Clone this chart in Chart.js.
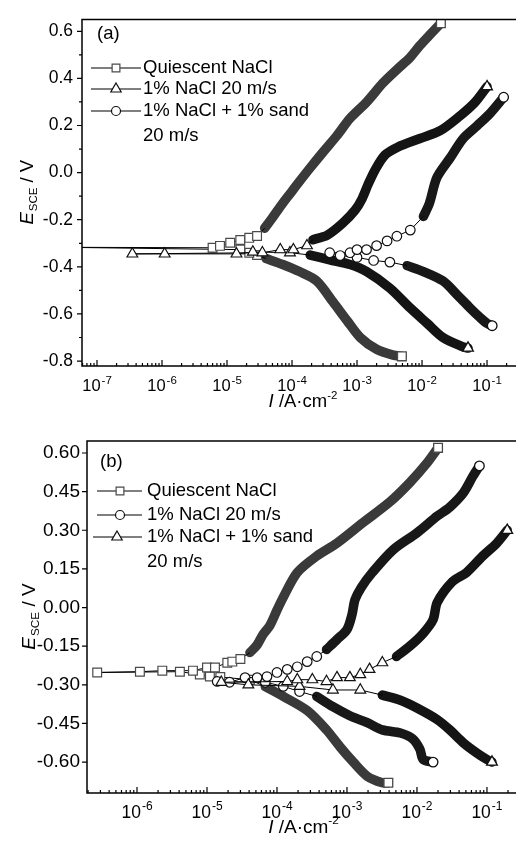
<!DOCTYPE html>
<html><head><meta charset="utf-8">
<script src="https://cdn.jsdelivr.net/npm/chart.js@4/dist/chart.umd.min.js"></script>
<style>
html,body{margin:0;padding:0;background:#fff;overflow:hidden;width:516px;height:843px}
canvas{position:absolute;left:0}
#ca{top:0}
#cb{top:420px}
</style></head><body>
<canvas id="ca" width="516" height="420"></canvas>
<canvas id="cb" width="516" height="423"></canvas>
<script>
const FONT = '"Liberation Sans", Arial, Helvetica, sans-serif';

// ---------- Panel (a) ----------
const aYTicks = [-0.8,-0.6,-0.4,-0.2,0.0,0.2,0.4,0.6];
const aYTickLabels = ['-0.8','-0.6','-0.4','-0.2','0.0','0.2','0.4','0.6'];
const aYMinor = [-0.7,-0.5,-0.3,-0.1,0.1,0.3,0.5];
const aDecades = [-7,-6,-5,-4,-3,-2,-1];
const aLegendLabels = ['Quiescent NaCl','1% NaCl 20 m/s','1% NaCl + 1% sand','20 m/s'];

// [current density A/cm2, potential V]
const aQuiCath = [[4.9e-3,-0.78],[3.6e-3,-0.775],[2.0e-3,-0.75],[1.12e-3,-0.70],[7.1e-4,-0.63],[4.3e-4,-0.55],[2.4e-4,-0.46],[1.3e-4,-0.42],[7.2e-5,-0.39],[4.0e-5,-0.365]];
const aQuiMid = [[2.9e-5,-0.35],[2.2e-5,-0.34],[1.6e-5,-0.327],[3e-8,-0.317],[6.0e-6,-0.319],[7.8e-6,-0.311],[1.12e-5,-0.298],[1.6e-5,-0.286],[2.2e-5,-0.277],[2.9e-5,-0.269]];
const aQuiAnod = [[3.8e-5,-0.236],[4.9e-5,-0.195],[7.2e-5,-0.13],[9.3e-5,-0.09],[1.2e-4,-0.05],[1.9e-4,0.02],[3.0e-4,0.087],[4.9e-4,0.157],[7.8e-4,0.23],[1.41e-3,0.30],[2.5e-3,0.38],[4.2e-3,0.44],[6.6e-3,0.49],[9.3e-3,0.54],[1.32e-2,0.585],[1.95e-2,0.634]];

const aTriCath = [[5.1e-2,-0.745],[4.3e-2,-0.74],[2.1e-2,-0.70],[1.2e-2,-0.64],[6.6e-3,-0.575],[3.2e-3,-0.49],[1.41e-3,-0.42],[7.8e-4,-0.39],[3.8e-4,-0.37],[1.9e-4,-0.35]];
const aTriMid = [[9.3e-5,-0.34],[2.5e-5,-0.337],[1.4e-5,-0.345],[1.1e-6,-0.345],[3.5e-7,-0.345],[3.5e-5,-0.34],[6.6e-5,-0.327],[1.05e-4,-0.327],[1.7e-4,-0.31]];
const aTriAnod = [[2.1e-4,-0.285],[3.5e-4,-0.265],[6.0e-4,-0.215],[9.3e-4,-0.16],[1.2e-3,-0.11],[1.48e-3,-0.05],[1.9e-3,0.012],[2.7e-3,0.075],[4.2e-3,0.108],[9.3e-3,0.145],[1.9e-2,0.178],[3.8e-2,0.24],[6.6e-2,0.30],[0.1,0.365]];

const aCirCath = [[0.12,-0.65],[0.1,-0.64],[7.8e-2,-0.615],[5.5e-2,-0.575],[3.5e-2,-0.52],[2.1e-2,-0.46],[1.05e-2,-0.42],[5.9e-3,-0.395]];
const aCirMid = [[3.2e-3,-0.38],[1.8e-3,-0.373],[1.0e-3,-0.36],[5.5e-4,-0.352],[3.8e-4,-0.34],[7.8e-4,-0.34],[1.0e-3,-0.327],[1.4e-3,-0.327],[2.0e-3,-0.31],[2.9e-3,-0.29],[4.1e-3,-0.27],[6.6e-3,-0.244]];
const aCirAnod = [[1.05e-2,-0.186],[1.3e-2,-0.13],[1.7e-2,-0.02],[2.7e-2,0.062],[4.3e-2,0.145],[7.1e-2,0.2],[0.11,0.25],[0.18,0.32]];

// ---------- Panel (b) ----------
const bYTicks = [-0.60,-0.45,-0.30,-0.15,0.00,0.15,0.30,0.45,0.60];
const bYTickLabels = ['-0.60','-0.45','-0.30','-0.15','0.00','0.15','0.30','0.45','0.60'];
const bDecades = [-6,-5,-4,-3,-2,-1];
const bLegendLabels = ['Quiescent NaCl','1% NaCl 20 m/s','1% NaCl + 1% sand','20 m/s'];

const bQuiCath = [[3.9e-3,-0.68],[3.2e-3,-0.68],[1.95e-3,-0.655],[1.23e-3,-0.60],[7.9e-4,-0.54],[5.1e-4,-0.475],[2.7e-4,-0.40],[1.23e-4,-0.345],[6.8e-5,-0.307]];
const bQuiMid = [[4.1e-5,-0.28],[1.55e-5,-0.27],[1.1e-5,-0.268],[7.9e-6,-0.26],[4.1e-6,-0.249],[2.7e-7,-0.252],[1.1e-6,-0.249],[2.3e-6,-0.245],[6.3e-6,-0.245],[1.0e-5,-0.233],[1.3e-5,-0.233],[1.95e-5,-0.214],[2.3e-5,-0.21],[3.0e-5,-0.2]];
const bQuiAnod = [[4.1e-5,-0.175],[5.2e-5,-0.145],[6.3e-5,-0.105],[7.9e-5,-0.07],[1.0e-4,-0.01],[1.23e-4,0.04],[1.95e-4,0.136],[3.7e-4,0.2],[7.2e-4,0.25],[1.7e-3,0.33],[4.1e-3,0.41],[7.9e-3,0.485],[1.38e-2,0.56],[2.0e-2,0.62]];

const bCirCath = [[1.7e-2,-0.60],[1.23e-2,-0.59],[1.1e-2,-0.55],[8.7e-3,-0.51],[5.8e-3,-0.487],[3.2e-3,-0.475],[1.95e-3,-0.447],[1.1e-3,-0.42],[6.3e-4,-0.385],[3.7e-4,-0.345]];
const bCirMid = [[2.1e-4,-0.326],[1.23e-4,-0.306],[6.8e-5,-0.29],[1.4e-5,-0.287],[2.1e-5,-0.29],[3.5e-5,-0.272],[5.2e-5,-0.272],[7.2e-5,-0.268],[1.0e-4,-0.252],[1.4e-4,-0.24],[1.95e-4,-0.23],[2.7e-4,-0.21],[3.7e-4,-0.19]];
const bCirAnod = [[5.1e-4,-0.163],[7.2e-4,-0.124],[1.0e-3,-0.085],[1.18e-3,-0.027],[1.3e-3,0.03],[1.6e-3,0.078],[2.3e-3,0.136],[4.6e-3,0.225],[1.0e-2,0.29],[1.95e-2,0.355],[2.95e-2,0.39],[4.6e-2,0.445],[6.3e-2,0.51],[7.8e-2,0.55]];

const bTriCath = [[0.118,-0.60],[0.1,-0.59],[7.2e-2,-0.565],[4.6e-2,-0.525],[2.95e-2,-0.475],[1.95e-2,-0.435],[1.0e-2,-0.39],[5.8e-3,-0.36],[3.2e-3,-0.34]];
const bTriMid = [[1.55e-3,-0.32],[6.3e-4,-0.32],[2.1e-4,-0.306],[3.9e-5,-0.30],[1.6e-5,-0.29],[1.4e-4,-0.287],[1.95e-4,-0.28],[3.2e-4,-0.28],[5.1e-4,-0.287],[7.2e-4,-0.272],[1.1e-3,-0.272],[1.55e-3,-0.26],[2.1e-3,-0.24],[3.2e-3,-0.214]];
const bTriAnod = [[5.1e-3,-0.19],[7.9e-3,-0.15],[1.23e-2,-0.1],[1.7e-2,-0.047],[1.95e-2,0.02],[3.2e-2,0.1],[5.1e-2,0.136],[8.7e-2,0.2],[0.138,0.25],[0.195,0.30]];

// ---------- styles ----------
const SQ = {ps:'rect', r:6.2, band:'#3a3a3a', mk:'#4a4a4a'};
const TR = {ps:'triangle', r:6.2, band:'#141414', mk:'#111'};
const CI = {ps:'circle', r:4.8, band:'#181818', mk:'#111'};
const BAND_W = 9.5;

const toXY = arr => arr.map(p => ({x:p[0], y:p[1]}));
function curveDatasets(cath, mid, anod, st, ord){
  const midPts = [cath[cath.length-1], ...mid, anod[0]];
  const nMid = midPts.length;
  const bandBase = {borderColor:st.band, borderWidth:BAND_W, tension:0.3, borderCapStyle:'round', borderJoinStyle:'round',
    pointStyle:st.ps, pointBackgroundColor:'#fff', pointBorderColor:st.mk, pointBorderWidth:1.3, order:ord+10};
  return [
    Object.assign({data:toXY(cath), pointRadius:c=>c.dataIndex===0?st.r:0}, bandBase),
    Object.assign({data:toXY(anod), pointRadius:c=>c.dataIndex===anod.length-1?st.r:0}, bandBase),
    {data:toXY(midPts), borderColor:'#000', borderWidth:1, tension:0, pointStyle:st.ps,
     pointRadius:c=>(c.dataIndex===0||c.dataIndex===nMid-1)?0:st.r,
     pointBackgroundColor:'#fff', pointBorderColor:st.mk, pointBorderWidth:1.2, order:ord}
  ];
}

function drawSup(ctx, base, exp, cx, baseline, fs, efs){
  ctx.font = fs+'px '+FONT;
  const wb = ctx.measureText(base).width;
  ctx.font = efs+'px '+FONT;
  const we = ctx.measureText(exp).width;
  const x0 = cx - (wb+we+1)/2;
  ctx.textAlign='left'; ctx.textBaseline='alphabetic';
  ctx.font = fs+'px '+FONT; ctx.fillText(base, x0, baseline);
  ctx.font = efs+'px '+FONT; ctx.fillText(exp, x0+wb+1, baseline-fs*0.45);
}

const decorPlugin = {
  id:'decor',
  afterDraw(chart){
    const o = chart.options.plugins.decor;
    const {ctx, chartArea:ca} = chart;
    const xs = chart.scales.x, ys = chart.scales.y;
    ctx.save();
    ctx.strokeStyle='#000'; ctx.fillStyle='#000'; ctx.lineWidth=1.5;
    ctx.beginPath();
    ctx.moveTo(ca.left, ca.top); ctx.lineTo(ca.right+2, ca.top);
    ctx.moveTo(ca.left, ca.top-0.75); ctx.lineTo(ca.left, ca.bottom+0.75);
    ctx.moveTo(ca.left, ca.bottom); ctx.lineTo(ca.right+2, ca.bottom);
    ctx.stroke();
    ctx.lineWidth=1.2;
    ctx.beginPath();
    o.yMajor.forEach(v=>{const p=ys.getPixelForValue(v); ctx.moveTo(ca.left-5,p); ctx.lineTo(ca.left,p);});
    o.yMinor.forEach(v=>{const p=ys.getPixelForValue(v); ctx.moveTo(ca.left-3,p); ctx.lineTo(ca.left,p);});
    o.decades.forEach(d=>{const p=xs.getPixelForValue(Math.pow(10,d)); ctx.moveTo(p,ca.bottom); ctx.lineTo(p,ca.bottom-6);});
    for(let d=o.decades[0]-1; d<=0; d++){
      for(let k=2;k<=9;k++){
        const v=k*Math.pow(10,d);
        if(v<xs.min||v>xs.max) continue;
        const p=xs.getPixelForValue(v); ctx.moveTo(p,ca.bottom); ctx.lineTo(p,ca.bottom-3);
      }
    }
    ctx.stroke();
    o.decades.forEach(d=>{
      const p=xs.getPixelForValue(Math.pow(10,d));
      drawSup(ctx,'10',String(d),p,ca.bottom+o.xLabOff,o.xFs,o.xEfs);
    });
    {
      const fs=o.tFs, efs=o.tFs*0.62;
      ctx.font='italic '+fs+'px '+FONT; const w1=ctx.measureText('I').width;
      ctx.font=fs+'px '+FONT; const w2=ctx.measureText(' /A\u00b7cm').width;
      ctx.font=efs+'px '+FONT; const w3=ctx.measureText('-2').width;
      let x=(ca.left+ca.right)/2+o.xtDx-(w1+w2+w3)/2; const yb=ca.bottom+o.xtOff;
      ctx.textAlign='left'; ctx.textBaseline='alphabetic';
      ctx.font='italic '+fs+'px '+FONT; ctx.fillText('I',x,yb); x+=w1;
      ctx.font=fs+'px '+FONT; ctx.fillText(' /A\u00b7cm',x,yb); x+=w2;
      ctx.font=efs+'px '+FONT; ctx.fillText('-2',x,yb-fs*0.45);
    }
    {
      const fs=o.tFs, sfs=o.tFs*0.62;
      ctx.save();
      ctx.translate(o.ytX,(ca.top+ca.bottom)/2);
      ctx.rotate(-Math.PI/2);
      ctx.font='italic '+fs+'px '+FONT; const w1=ctx.measureText('E').width;
      ctx.font=sfs+'px '+FONT; const w2=ctx.measureText('SCE').width;
      ctx.font=fs+'px '+FONT; const w3=ctx.measureText(' / V').width;
      let x=-(w1+w2+w3)/2;
      ctx.textAlign='left'; ctx.textBaseline='middle';
      ctx.font='italic '+fs+'px '+FONT; ctx.fillText('E',x,0); x+=w1+1;
      ctx.font=sfs+'px '+FONT; ctx.fillText('SCE',x,fs*0.3); x+=w2;
      ctx.font=fs+'px '+FONT; ctx.fillText(' / V',x,0);
      ctx.restore();
    }
    ctx.font=o.lFs+'px '+FONT; ctx.textAlign='left'; ctx.textBaseline='middle';
    ctx.fillText(o.panel,o.panelX,o.panelY);
    o.legend.forEach(row=>{
      if(row.st){
        ctx.strokeStyle='#000'; ctx.lineWidth=1.2;
        ctx.beginPath(); ctx.moveTo(row.x1,row.y); ctx.lineTo(row.x2,row.y); ctx.stroke();
        ctx.fillStyle='#fff'; ctx.strokeStyle=row.st.mk; ctx.lineWidth=1.2;
        Chart.helpers.drawPoint(ctx,{pointStyle:row.st.ps, radius:row.r, borderWidth:1.2},row.mx,row.y);
      }
      ctx.fillStyle='#000'; ctx.font=o.lFs+'px '+FONT; ctx.textAlign='left'; ctx.textBaseline='middle';
      ctx.fillText(row.text,o.legTextX,row.y);
    });
    ctx.restore();
  }
};

function makeChart(id, sets, g){
  return new Chart(document.getElementById(id), {
    type:'line',
    data:{datasets:sets},
    options:{
      responsive:false, animation:false, events:[],
      layout:{autoPadding:false, padding:{top:g.top,bottom:g.bottom,left:0,right:0}},
      scales:{
        x:{type:'logarithmic', min:g.xmin, max:g.xmax, display:false},
        y:{type:'linear', min:g.ymin, max:g.ymax,
           afterFit:s=>{s.width=g.yw;},
           afterBuildTicks:s=>{s.ticks=g.yTicks.map(v=>({value:v}));},
           grid:{display:false, drawTicks:false}, border:{display:false},
           ticks:{autoSkip:false, padding:g.ypad, color:'#000', font:{family:FONT,size:g.yFs}, callback:(v,i)=>g.yLabels[i]}}
      },
      plugins:{legend:{display:false}, tooltip:{enabled:false}, decor:g.decor}
    },
    plugins:[decorPlugin]
  });
}

makeChart('ca', [
  ...curveDatasets(aQuiCath,aQuiMid,aQuiAnod,SQ,3),
  ...curveDatasets(aTriCath,aTriMid,aTriAnod,TR,2),
  ...curveDatasets(aCirCath,aCirMid,aCirAnod,CI,1)
], {top:11,bottom:54,xmin:5.88e-8,xmax:0.279,ymin:-0.821,ymax:0.65,yw:82,ypad:9,yFs:17.5,
  yTicks:aYTicks,yLabels:aYTickLabels,
  decor:{yMajor:aYTicks,yMinor:aYMinor,decades:aDecades,xLabOff:25,xFs:16.5,xEfs:11.5,tFs:18.5,xtOff:41,xtDx:4,ytX:28,
    lFs:18.5,panel:'(a)',panelX:97,panelY:34,legTextX:143,
    legend:[
      {st:SQ,r:5.5,x1:91,x2:141,mx:116,y:68,text:aLegendLabels[0]},
      {st:TR,r:6,x1:91,x2:141,mx:116,y:89,text:aLegendLabels[1]},
      {st:CI,r:4.5,x1:91,x2:141,mx:116,y:111,text:aLegendLabels[2]},
      {st:null,y:136,text:aLegendLabels[3]}
    ]}
});

makeChart('cb', [
  ...curveDatasets(bQuiCath,bQuiMid,bQuiAnod,SQ,3),
  ...curveDatasets(bCirCath,bCirMid,bCirAnod,CI,2),
  ...curveDatasets(bTriCath,bTriMid,bTriAnod,TR,1)
], {top:21,bottom:50,xmin:1.93e-7,xmax:0.26,ymin:-0.72,ymax:0.6466,yw:87,ypad:7,yFs:19,
  yTicks:bYTicks,yLabels:bYTickLabels,
  decor:{yMajor:bYTicks,yMinor:[],decades:bDecades,xLabOff:25,xFs:17.5,xEfs:12,tFs:19,xtOff:40,xtDx:2,ytX:30,
    lFs:18.5,panel:'(b)',panelX:100,panelY:42,legTextX:147,
    legend:[
      {st:SQ,r:5.5,x1:97,x2:142,mx:120,y:71,text:bLegendLabels[0]},
      {st:CI,r:4.5,x1:97,x2:142,mx:120,y:95,text:bLegendLabels[1]},
      {st:TR,r:6,x1:93,x2:142,mx:117,y:117,text:bLegendLabels[2]},
      {st:null,y:142,text:bLegendLabels[3]}
    ]}
});
</script>
</body></html>
